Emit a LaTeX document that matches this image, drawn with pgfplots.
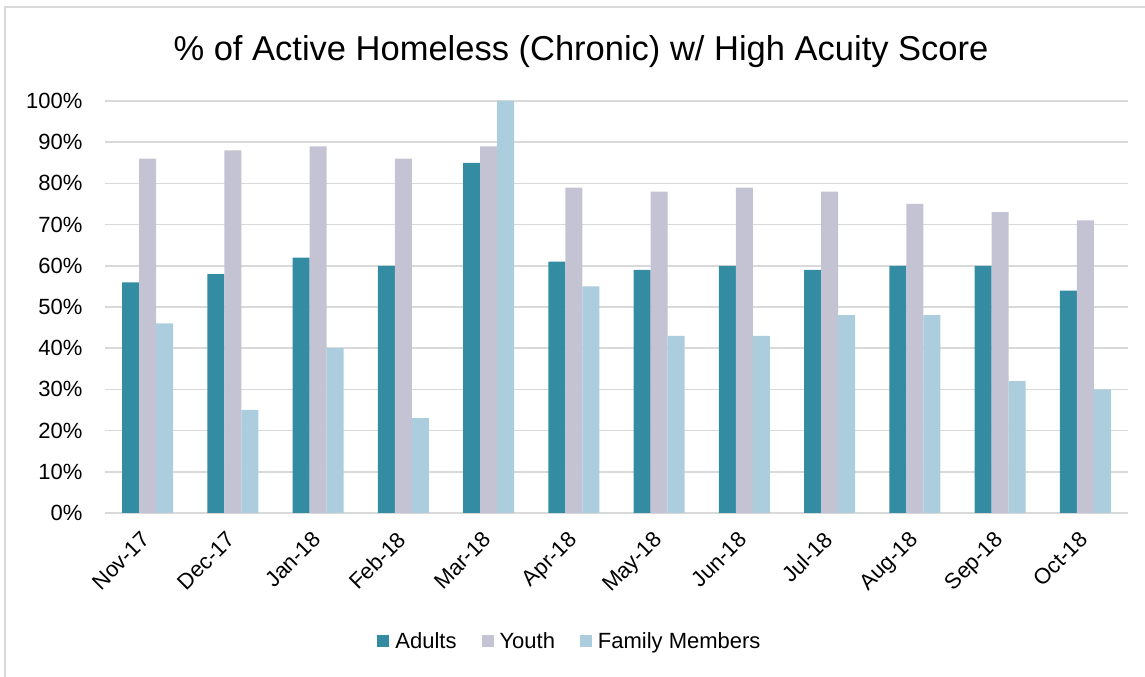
\documentclass[border=0pt]{standalone}
\usepackage{pgfplots}
\pgfplotsset{compat=1.18}
\usepackage{fontspec}
\setmainfont{Liberation Sans}
\definecolor{adults}{HTML}{348CA3}
\definecolor{youth}{HTML}{C4C3D3}
\definecolor{family}{HTML}{ABCDDD}
\definecolor{gridc}{HTML}{D9D9D9}
\newcommand{\lbl}{\fontsize{22bp}{26bp}\selectfont}
\begin{document}
\begin{tikzpicture}[x=1bp,y=1bp]
\useasboundingbox (0,0) rectangle (1145,677);
\draw[gridc, line width=1.5bp] (5,0) -- (5,670) -- (1145,670);
\begin{axis}[
  at={(105bp,164bp)}, anchor=south west,
  scale only axis, width=1023bp, height=412bp,
  xmin=-0.5, xmax=11.5, ymin=0, ymax=100,
  ybar=0pt, bar width=17bp,
  axis lines=left, axis line style={draw=none,-},
  major tick length=0pt,
  ymajorgrids, grid style={gridc, line width=1.5bp},
  ytick={0,10,...,100},
  yticklabels={0\%,10\%,20\%,30\%,40\%,50\%,60\%,70\%,80\%,90\%,100\%},
  yticklabel style={font=\lbl, anchor=east, xshift=-19bp},
  xtick=data,
  xticklabels={Nov-17,Dec-17,Jan-18,Feb-18,Mar-18,Apr-18,May-18,Jun-18,Jul-18,Aug-18,Sep-18,Oct-18},
  xticklabel style={font=\lbl, rotate=45, anchor=north east, inner sep=1bp, xshift=-16bp, yshift=-6bp},
  legend style={at={(0.4545,-0.311)}, anchor=center, draw=none, font=\lbl,
    legend columns=3,
    /tikz/every odd column/.append style={column sep=4bp},
    /tikz/every even column/.append style={column sep=23bp}},
  legend image code/.code={\fill[#1] (0bp,-6bp) rectangle (12bp,6bp);},
  clip=false,
]
\addplot[fill=adults, draw=none] coordinates {(0,56) (1,58) (2,62) (3,60) (4,85) (5,61) (6,59) (7,60) (8,59) (9,60) (10,60) (11,54)};
\addplot[fill=youth, draw=none] coordinates {(0,86) (1,88) (2,89) (3,86) (4,89) (5,79) (6,78) (7,79) (8,78) (9,75) (10,73) (11,71)};
\addplot[fill=family, draw=none] coordinates {(0,46) (1,25) (2,40) (3,23) (4,100) (5,55) (6,43) (7,43) (8,48) (9,48) (10,32) (11,30)};
\legend{Adults,Youth,Family Members}
\end{axis}
\node[anchor=base, font=\fontsize{34.5bp}{40bp}\selectfont, inner sep=0] at (581,616) {\% of Active Homeless (Chronic) w/ High Acuity Score};
\end{tikzpicture}
\end{document}
